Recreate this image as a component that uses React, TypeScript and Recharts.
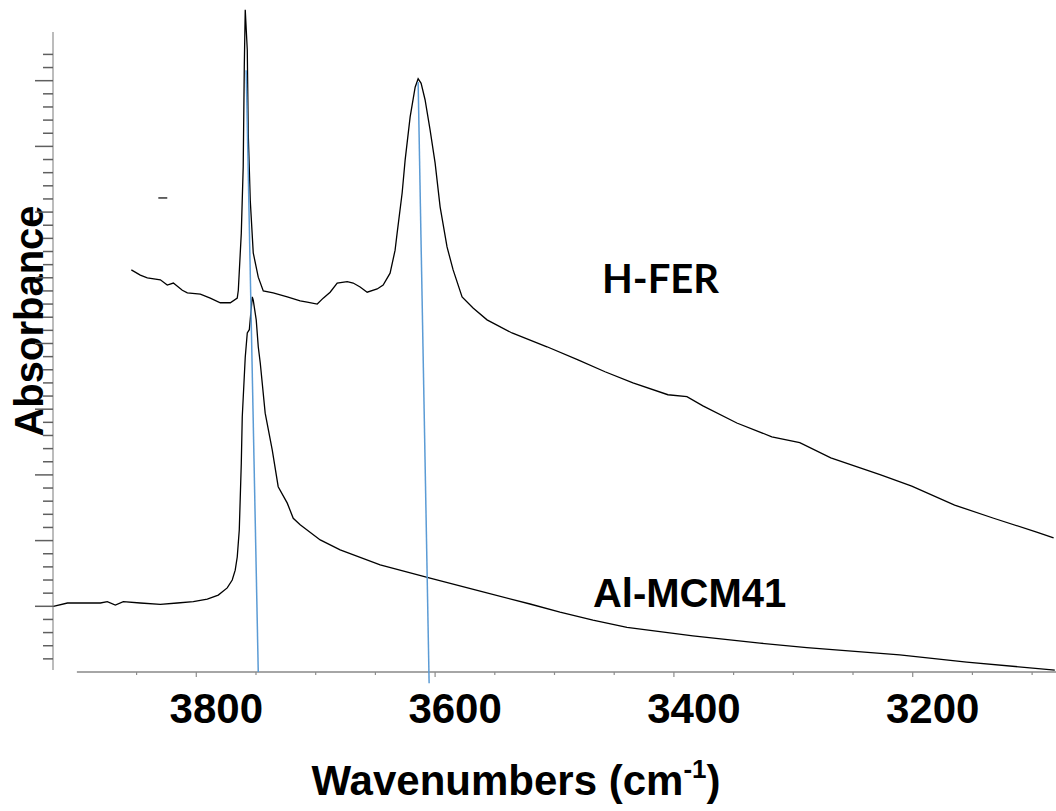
import { LineChart, Line, XAxis, YAxis, ReferenceLine, ReferenceDot } from "recharts";

// ---------------------------------------------------------------------------
// Spectra (wavenumber in cm-1, absorbance in arb. units)
// ---------------------------------------------------------------------------

const hferWavenumber = [
  3854.4, 3846.9, 3841.0, 3830.1, 3824.3, 3819.2, 3811.7, 3807.5, 3796.6, 3788.3,
  3779.9, 3771.5, 3765.7, 3764.8, 3762.3, 3760.7, 3759.8, 3759.0, 3757.3, 3756.5,
  3754.8, 3752.3, 3748.1, 3743.9, 3735.6, 3723.8, 3713.0, 3707.1, 3698.7, 3693.7,
  3687.9, 3682.0, 3673.6, 3668.6, 3662.8, 3656.9, 3648.5, 3643.5, 3637.7, 3633.5,
  3631.8, 3627.6, 3625.1, 3620.9, 3616.7, 3614.2, 3611.7, 3608.4, 3604.2, 3600.0,
  3595.8, 3590.0, 3584.9, 3577.4, 3568.2, 3556.5, 3535.6, 3506.3, 3480.3, 3457.7,
  3434.3, 3405.0, 3389.1, 3375.7, 3347.3, 3318.0, 3294.6, 3268.6, 3226.8, 3200.8,
  3164.9, 3132.2, 3096.2, 3082.0,
];
const hferAbsorbance = [
  0.612, 0.604, 0.600, 0.597, 0.589, 0.592, 0.581, 0.577, 0.575, 0.569,
  0.562, 0.562, 0.569, 0.581, 0.668, 0.769, 0.921, 1.008, 0.947, 0.820,
  0.718, 0.638, 0.601, 0.580, 0.577, 0.571, 0.565, 0.563, 0.560, 0.569,
  0.578, 0.592, 0.594, 0.592, 0.586, 0.578, 0.583, 0.589, 0.607, 0.642,
  0.668, 0.729, 0.779, 0.845, 0.890, 0.903, 0.896, 0.871, 0.825, 0.775,
  0.708, 0.647, 0.612, 0.571, 0.554, 0.536, 0.516, 0.495, 0.475, 0.457,
  0.440, 0.422, 0.419, 0.405, 0.379, 0.358, 0.349, 0.326, 0.300, 0.283,
  0.254, 0.234, 0.213, 0.204,
];

const mcmWavenumber = [
  3919.7, 3907.9, 3894.6, 3880.3, 3874.5, 3867.8, 3861.1, 3846.9, 3830.1, 3815.9,
  3802.5, 3790.8, 3781.6, 3774.1, 3769.9, 3767.4, 3765.7, 3764.0, 3762.3, 3761.5,
  3759.0, 3757.3, 3755.6, 3753.1, 3752.3, 3749.8, 3748.1, 3746.4, 3742.3, 3736.4,
  3731.4, 3723.8, 3718.8, 3713.0, 3696.2, 3679.5, 3646.0, 3604.2, 3562.3, 3520.5,
  3495.4, 3467.8, 3439.3, 3384.1, 3328.0, 3288.7, 3210.9, 3154.8, 3081.0,
];
const mcmAbsorbance = [
  0.100, 0.105, 0.105, 0.105, 0.107, 0.102, 0.107, 0.105, 0.103, 0.105,
  0.107, 0.111, 0.117, 0.128, 0.140, 0.155, 0.175, 0.216, 0.318, 0.388,
  0.479, 0.516, 0.521, 0.571, 0.566, 0.536, 0.495, 0.470, 0.394, 0.338,
  0.282, 0.257, 0.234, 0.224, 0.201, 0.186, 0.163, 0.143, 0.123, 0.1035,
  0.091, 0.079, 0.068, 0.055, 0.044, 0.037, 0.026, 0.015, 0.003,
];

// axis ticks
const xTicks = [3850, 3800, 3750, 3700, 3650, 3600, 3550, 3500, 3450, 3400, 3350, 3300, 3250, 3200, 3150, 3100];
const xLabelTicks = [3800, 3600, 3400, 3200];
const yTicks = [
  0.02, 0.04, 0.06, 0.08, 0.1, 0.12, 0.14, 0.16, 0.18, 0.2, 0.22, 0.24, 0.26, 0.28, 0.3,
  0.32, 0.34, 0.36, 0.38, 0.4, 0.42, 0.44, 0.46, 0.48, 0.5, 0.52, 0.54, 0.56, 0.58, 0.6,
  0.62, 0.64, 0.66, 0.68, 0.7, 0.72, 0.74, 0.76, 0.78, 0.8, 0.82, 0.84, 0.86, 0.88, 0.9,
  0.92, 0.94,
];

const hferData = hferWavenumber.map((w, i) => ({ w, a: hferAbsorbance[i] }));
const mcmData = mcmWavenumber.map((w, i) => ({ w, a: mcmAbsorbance[i] }));

const ARIAL = "'Liberation Sans', Arial, sans-serif";
const AXIS_GREY = "#a6a6a6";
const GUIDE_BLUE = "#5b9bd5";

function XTick(props: any) {
  const { x, y, payload } = props;
  const labelled = xLabelTicks.includes(payload.value);
  return (
    <g>
      <line x1={x} y1={y} x2={x} y2={y + (labelled ? 5 : 3)} stroke="#8c8c8c" strokeWidth={1.2} />
      {labelled && (
        <text x={x + 20} y={y + 51} textAnchor="middle" fontFamily={ARIAL} fontWeight="bold" fontSize={42} fill="#000">
          {payload.value}
        </text>
      )}
    </g>
  );
}

function YTick(props: any) {
  const { x, y, payload } = props;
  const major = Math.round(payload.value * 100) % 10 === 0;
  return <line x1={x - (major ? 18 : 10)} y1={y} x2={x} y2={y} stroke="#5f5f5f" strokeWidth={1.5} />;
}

const xTitle = () => (
  <text x={516} y={795} textAnchor="middle" fontFamily={ARIAL} fontWeight="bold" fontSize={42} fill="#000">
    Wavenumbers (cm
    <tspan fontSize={26} dy={-17}>-1</tspan>
    <tspan dy={17}>)</tspan>
  </text>
);

const yTitle = () => (
  <text
    x={43}
    y={321}
    transform="rotate(-90, 43, 321)"
    textAnchor="middle"
    fontFamily={ARIAL}
    fontWeight="bold"
    fontSize={40}
    fill="#000"
  >
    Absorbance
  </text>
);

export default function App() {
  return (
    <div style={{ position: "absolute", left: 0, top: 0, width: 1056, height: 811, background: "#fff" }}>
      <LineChart width={1056} height={811} margin={{ top: 0, right: 0, left: 0, bottom: 0 }}>
        <XAxis
          type="number"
          dataKey="w"
          domain={[3080, 3920]}
          reversed
          allowDataOverflow
          ticks={xTicks}
          interval={0}
          tick={<XTick />}
          tickLine={false}
          axisLine={false}
          tickSize={0}
          tickMargin={0}
          height={139}
          label={xTitle}
        />
        <YAxis
          type="number"
          domain={[0, 1.0228]}
          allowDataOverflow
          ticks={yTicks}
          interval={0}
          tick={<YTick />}
          tickLine={false}
          axisLine={false}
          tickSize={0}
          tickMargin={0}
          width={53}
          label={yTitle}
        />

        {/* axis lines */}
        <ReferenceLine segment={[{ x: 3900, y: 0 }, { x: 3080, y: 0 }]} stroke={AXIS_GREY} strokeWidth={2} ifOverflow="visible" />
        <ReferenceLine segment={[{ x: 3920, y: 0.003 }, { x: 3920, y: 0.974 }]} stroke={AXIS_GREY} strokeWidth={1.5} ifOverflow="visible" />

        <Line data={hferData} dataKey="a" type="linear" dot={false} stroke="#000" strokeWidth={1.3} isAnimationActive={false} />
        <Line data={mcmData} dataKey="a" type="linear" dot={false} stroke="#000" strokeWidth={1.3} isAnimationActive={false} />

        {/* peak guide lines */}
        <ReferenceLine segment={[{ x: 3758.2, y: 0.916 }, { x: 3748.1, y: 0 }]} stroke={GUIDE_BLUE} strokeWidth={1.5} ifOverflow="visible" />
        <ReferenceLine segment={[{ x: 3614.2, y: 0.898 }, { x: 3605.0, y: -0.017 }]} stroke={GUIDE_BLUE} strokeWidth={1.5} ifOverflow="visible" />

        {/* stray mark left in the original */}
        <ReferenceLine segment={[{ x: 3831.8, y: 0.7215 }, { x: 3824.3, y: 0.7215 }]} stroke="#000" strokeWidth={1.2} ifOverflow="visible" />

        <ReferenceDot
          x={3460.3}
          y={0.577}
          r={0}
          ifOverflow="visible"
          shape={(p: any) => (
            <text x={p.cx} y={p.cy} fontFamily="Lato, 'Open Sans', sans-serif" fontWeight="bold" fontSize={40} fill="#000">
              H-FER
            </text>
          )}
        />
        <ReferenceDot
          x={3467.8}
          y={0.099}
          r={0}
          ifOverflow="visible"
          shape={(p: any) => (
            <text x={p.cx} y={p.cy} fontFamily={ARIAL} fontWeight="bold" fontSize={40} fill="#000">
              Al-MCM41
            </text>
          )}
        />
      </LineChart>
    </div>
  );
}
